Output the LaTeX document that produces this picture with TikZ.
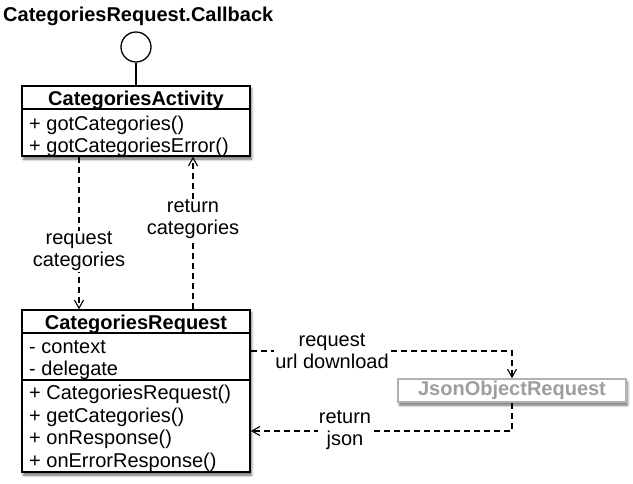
\documentclass[tikz,border=0pt]{standalone}
\usepackage{fontspec}
\setmainfont{Liberation Sans}
\usetikzlibrary{arrows.meta,shadows.blur}
\newcommand\umlfont{\fontsize{20}{22}\selectfont}
\tikzset{
  classbox/.style={draw,line width=1.6pt,fill=white,inner sep=0pt,
    blur shadow={shadow xshift=1.5pt,shadow yshift=-3pt,shadow blur radius=2.5pt,shadow opacity=60}},
  classname/.style={anchor=base,inner sep=0pt,font=\umlfont\bfseries},
  member/.style={anchor=base west,inner sep=0pt},
  msg/.style={->,dash pattern=on 6pt off 4pt,line width=1.25pt},
  msglabel/.style={fill=white,align=center,inner sep=1pt}
}

\begin{document}
\begin{tikzpicture}[x=1pt,y=-1pt,>={Straight Barb[length=8pt,width=9pt,line width=1.1pt]},
  font=\umlfont]
\useasboundingbox (0,0) rectangle (633,483);
\node[anchor=base west,inner sep=0pt,font=\umlfont\bfseries] (cbname) at (3,21) {CategoriesRequest.Callback};
\node[draw,circle,line width=1.3pt,minimum size=30pt,inner sep=0pt] (iface) at (136,47) {};
% CategoriesActivity
\node[classbox,minimum width=228pt,minimum height=70pt] (activity) at (136,121) {};
\draw[line width=1.6pt] (activity.west |- 0,109) -- (activity.east |- 0,109);
\node[classname] (actname) at (136,105) {CategoriesActivity};
\foreach \m [count=\i] in {{+ gotCategories()},{+ gotCategoriesError()}}
  \node[member] (actm\i) at (29,108+22*\i) {\m};
\draw[line width=1.3pt] (iface) -- (activity);
% CategoriesRequest
\node[classbox,minimum width=228pt,minimum height=162pt] (request) at (136,391) {};
\draw[line width=1.6pt] (request.west |- 0,333) -- (request.east |- 0,333);
\draw[line width=1.6pt] (request.west |- 0,380) -- (request.east |- 0,380);
\node[classname] (reqname) at (136,329) {CategoriesRequest};
\foreach \m [count=\i] in {{- context},{- delegate}}
  \node[member] (reqa\i) at (29,331+22*\i) {\m};
\foreach \m [count=\i] in {{+ CategoriesRequest()},{+ getCategories()},{+ onResponse()},{+ onErrorResponse()}}
  \node[member] (reqm\i) at (29,377+22.5*\i) {\m};
% JsonObjectRequest
\node[classbox,draw=black!30,text=black!38,minimum width=228pt,minimum height=23pt,font=\umlfont\bfseries]
  (json) at (512,390.5) {JsonObjectRequest};
% messages
\draw[msg] (activity.south -| 79,0) -- node[msglabel,pos=.62] (reqlbl) {request\\categories} (request.north -| 79,0);
\draw[msg] (request.north -| 193,0) -- node[msglabel,pos=.59] (retlbl) {return\\categories} (activity.south -| 193,0);
\draw[msg] (request.east |- 0,351) -| (json.north);
\node[msglabel] (urllbl) at (332,351) {request\\url download};
\draw[msg] (json.south) |- (request.east |- 0,431);
\node[msglabel] (jsonlbl) at (345,430) {return\\json};
\end{tikzpicture}
\end{document}
